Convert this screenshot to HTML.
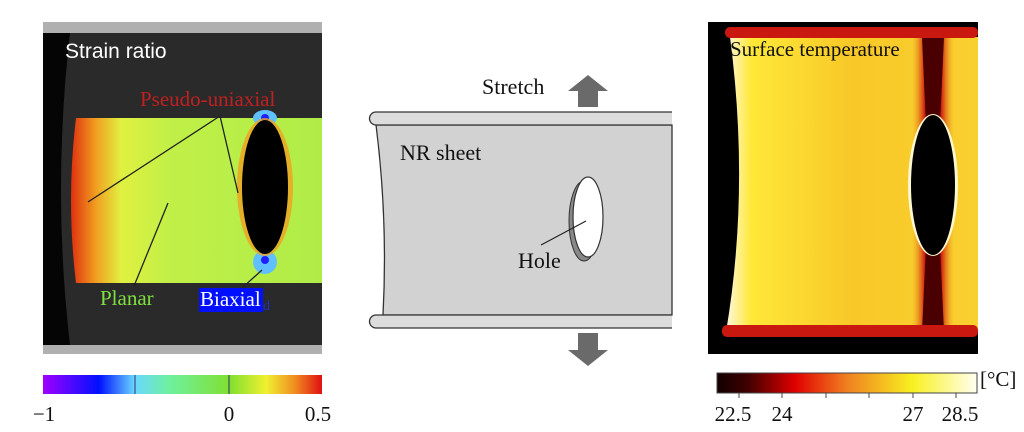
<!DOCTYPE html>
<html><head><meta charset="utf-8"><style>
body{margin:0;background:#fff;width:1024px;height:432px;overflow:hidden;font-family:"Liberation Serif",serif}
svg{position:absolute;left:0;top:0}
</style></head><body>
<svg width="1024" height="432" viewBox="0 0 1024 432" font-family="Liberation Serif, serif">
<defs>
<linearGradient id="cb1" x1="0" x2="1"><stop offset="0" stop-color="#a000ff"/><stop offset="0.2" stop-color="#0010ff"/><stop offset="0.33" stop-color="#6ad8ff"/><stop offset="0.45" stop-color="#6ef0a0"/><stop offset="0.67" stop-color="#80e030"/><stop offset="0.8" stop-color="#f0f030"/><stop offset="0.9" stop-color="#f09020"/><stop offset="1" stop-color="#e01010"/></linearGradient>
<linearGradient id="cb2" x1="0" x2="1"><stop offset="0" stop-color="#100000"/><stop offset="0.12" stop-color="#400000"/><stop offset="0.3" stop-color="#e00000"/><stop offset="0.5" stop-color="#f08020"/><stop offset="0.75" stop-color="#f8f020"/><stop offset="1" stop-color="#fffff0"/></linearGradient>
<linearGradient id="gl" x1="0" x2="1"><stop offset="0" stop-color="#e03010"/><stop offset="0.1" stop-color="#f0a020"/><stop offset="0.2" stop-color="#e0f040"/><stop offset="0.4" stop-color="#c0f048"/><stop offset="1" stop-color="#b0ec48"/></linearGradient>
<linearGradient id="tl" x1="0" x2="1"><stop offset="0" stop-color="#fff8e0"/><stop offset="0.1" stop-color="#ffe838"/><stop offset="0.5" stop-color="#f8c828"/><stop offset="1" stop-color="#f8d030"/></linearGradient>
<linearGradient id="band" x1="0" x2="1"><stop offset="0" stop-color="#f0a020" stop-opacity="0"/><stop offset="0.3" stop-color="#d02010"/><stop offset="0.7" stop-color="#d02010"/><stop offset="1" stop-color="#f0a020" stop-opacity="0"/></linearGradient>
</defs>
<!-- left panel -->
<rect x="43" y="22" width="279" height="332" fill="#b0b0b0"/>
<rect x="43" y="33" width="279" height="312" fill="#2a2a2a"/>
<path d="M43 33 H70 Q52 190 70 345 H43 Z" fill="#050505"/>
<path d="M76 118 L322 118 L322 283 L76 283 Q66 200 76 118 Z" fill="url(#gl)"/>
<ellipse cx="265" cy="118" rx="12" ry="8" fill="#60c0ff"/>
<ellipse cx="265" cy="262" rx="12" ry="12" fill="#60c0ff"/>
<ellipse cx="265" cy="118" rx="4" ry="4" fill="#2020ff"/>
<ellipse cx="265" cy="260" rx="4" ry="4" fill="#2020ff"/>
<ellipse cx="265" cy="187" rx="28" ry="69" fill="#f0a020" opacity="0.8"/>
<ellipse cx="265" cy="187" rx="23" ry="67" fill="#000"/>
<text x="65" y="58" font-size="21" fill="#fff" font-family="Liberation Sans, sans-serif">Strain ratio</text>
<text x="140" y="106" font-size="21" fill="#c02020">Pseudo-uniaxial</text>
<g stroke="#222" stroke-width="1.3"><line x1="220" y1="116" x2="88" y2="202"/><line x1="220" y1="116" x2="238" y2="193"/><line x1="168" y1="203" x2="134" y2="286"/><line x1="262" y1="270" x2="242" y2="288"/></g>
<text x="100" y="305" font-size="21" fill="#80e040">Planar</text>
<rect x="199" y="288" width="64" height="24" fill="#0010ff"/>
<text x="200" y="306" font-size="21" fill="#fff">Biaxial</text>
<text x="263" y="310" font-size="14" fill="#2030c0">d</text>
<rect x="43" y="375" width="279" height="19" fill="url(#cb1)"/>
<line x1="135" y1="375" x2="135" y2="394" stroke="#336" stroke-width="1"/>
<line x1="229" y1="375" x2="229" y2="394" stroke="#336" stroke-width="1"/>
<g font-size="21" fill="#111" text-anchor="middle"><text x="44" y="421">−1</text><text x="229" y="421">0</text><text x="318" y="421">0.5</text></g>
<!-- middle -->
<path d="M376 125 Q388 220 383 315 L672 315 L672 125 Z" fill="#d2d2d2" stroke="#333" stroke-width="1.3"/>
<path d="M672 112 H376 a6.5 6.5 0 0 0 0 13 H672" fill="#dcdcdc" stroke="#333" stroke-width="1.3"/>
<path d="M672 315 H376 a6.5 6.5 0 0 0 0 13 H672" fill="#dcdcdc" stroke="#333" stroke-width="1.3"/>
<ellipse cx="584" cy="221" rx="15" ry="40" fill="#888" stroke="#333"/>
<ellipse cx="588" cy="217" rx="15" ry="40" fill="#fff" stroke="#333" stroke-width="1.2"/>
<line x1="586" y1="221" x2="541" y2="245" stroke="#222" stroke-width="1.2"/>
<text x="518" y="268" font-size="22" fill="#111">Hole</text>
<text x="400" y="160" font-size="22" fill="#111">NR sheet</text>
<text x="482" y="94" font-size="22" fill="#111">Stretch</text>
<path d="M568 91 L588 75 L608 91 L598 91 L598 107 L578 107 L578 91 Z" fill="#6a6a6a"/>
<path d="M568 350 L588 366 L608 350 L598 350 L598 333 L578 333 L578 350 Z" fill="#6a6a6a"/>
<!-- right panel -->
<rect x="708" y="22" width="270" height="332" fill="#000"/>
<path d="M730 37 L978 37 L978 332 L726 332 Q750 190 730 37 Z" fill="url(#tl)"/>
<rect x="912" y="37" width="42" height="295" fill="url(#band)"/>
<path d="M922 37 L944 37 L940 125 L926 125 Z" fill="#4a0000"/>
<path d="M922 332 L944 332 L940 245 L926 245 Z" fill="#4a0000"/>
<rect x="725" y="27" width="253" height="11" rx="5" fill="#c81810"/>
<rect x="722" y="325" width="256" height="12" rx="5" fill="#c81810"/>
<ellipse cx="933" cy="185" rx="25" ry="71" fill="#fff8d0"/>
<ellipse cx="933" cy="185" rx="22" ry="70" fill="#000"/>
<text x="730" y="56" font-size="21" fill="#111">Surface temperature</text>
<rect x="717" y="373" width="260" height="20" fill="url(#cb2)" stroke="#444" stroke-width="1"/>
<g stroke="#444"><line x1="739" y1="393" x2="739" y2="398"/><line x1="782" y1="393" x2="782" y2="398"/><line x1="826" y1="393" x2="826" y2="398"/><line x1="869" y1="393" x2="869" y2="398"/><line x1="913" y1="393" x2="913" y2="398"/><line x1="956" y1="393" x2="956" y2="398"/></g>
<text x="980" y="386" font-size="21" fill="#111">[°C]</text>
<g font-size="21" fill="#111" text-anchor="middle"><text x="733" y="421">22.5</text><text x="782" y="421">24</text><text x="913" y="421">27</text><text x="960" y="421">28.5</text></g>
</svg>
</body></html>
